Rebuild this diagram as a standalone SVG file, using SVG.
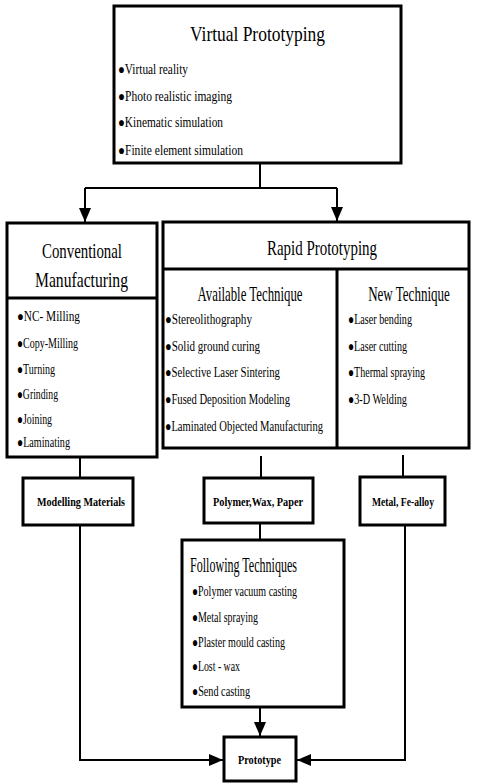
<svg xmlns="http://www.w3.org/2000/svg" width="478" height="783" viewBox="0 0 478 783">
<style>
.box{fill:#fff;stroke:#000;stroke-width:3}
.div{stroke:#000;stroke-width:3;fill:none}
.con{stroke:#000;stroke-width:2;fill:none}
text{font-family:"Liberation Serif","Times New Roman",serif;fill:#000}
.t{font-size:21px}
.b{font-size:14px}
.s{font-size:13px;font-weight:bold}
.m{text-anchor:middle}
</style>
<defs>
<marker id="ah" viewBox="0 0 14 12" refX="14" refY="6" markerWidth="14" markerHeight="12" markerUnits="userSpaceOnUse" orient="auto">
<path d="M0,0 L14,6 L0,12 z" fill="#000"/>
</marker>
</defs>
<rect width="478" height="783" fill="#fff"/>

<g id="connectors">
<path class="con" d="M260,163 V188"/>
<path class="con" d="M85,188 H337"/>
<path class="con" d="M85,188 V222" marker-end="url(#ah)"/>
<path class="con" d="M337,188 V221" marker-end="url(#ah)"/>
<path class="con" d="M80,457 V478"/>
<path class="con" d="M261,456 V478"/>
<path class="con" d="M403,455 V477"/>
<path class="con" d="M260,523 V540"/>
<path class="con" d="M260,707 V736" marker-end="url(#ah)"/>
<path class="con" d="M80,525 V760 H223" marker-end="url(#ah)"/>
<path class="con" d="M405,525 V760 H297" marker-end="url(#ah)"/>
</g>

<g id="virtual">
<rect class="box" x="114" y="6" width="287" height="157"/>
<text class="t" x="190" y="41" textLength="135" lengthAdjust="spacingAndGlyphs">Virtual Prototyping</text>
<text class="b" x="118" y="74" textLength="70" lengthAdjust="spacingAndGlyphs">●Virtual reality</text>
<text class="b" x="118" y="101" textLength="114" lengthAdjust="spacingAndGlyphs">●Photo realistic imaging</text>
<text class="b" x="118" y="127" textLength="105" lengthAdjust="spacingAndGlyphs">●Kinematic simulation</text>
<text class="b" x="118" y="155" textLength="125" lengthAdjust="spacingAndGlyphs">●Finite element simulation</text>
</g>

<g id="conventional">
<rect class="box" x="7" y="223" width="150" height="234"/>
<path class="div" d="M7,298 H157"/>
<text class="t" x="42" y="258" textLength="80" lengthAdjust="spacingAndGlyphs">Conventional</text>
<text class="t" x="35" y="287" textLength="93" lengthAdjust="spacingAndGlyphs">Manufacturing</text>
<text class="b" x="17" y="321" textLength="63" lengthAdjust="spacingAndGlyphs">●NC- Milling</text>
<text class="b" x="17" y="348" textLength="61" lengthAdjust="spacingAndGlyphs">●Copy-Milling</text>
<text class="b" x="17" y="374" textLength="38" lengthAdjust="spacingAndGlyphs">●Turning</text>
<text class="b" x="17" y="399" textLength="41" lengthAdjust="spacingAndGlyphs">●Grinding</text>
<text class="b" x="17" y="424" textLength="35" lengthAdjust="spacingAndGlyphs">●Joining</text>
<text class="b" x="17" y="447" textLength="53" lengthAdjust="spacingAndGlyphs">●Laminating</text>
</g>

<g id="rapid">
<rect class="box" x="163" y="222" width="306" height="226"/>
<path class="div" d="M163,269 H469 M337,269 V448"/>
<text class="t m" x="322" y="255" textLength="110" lengthAdjust="spacingAndGlyphs">Rapid Prototyping</text>
<text class="t m" x="250" y="301" textLength="105" lengthAdjust="spacingAndGlyphs">Available Technique</text>
<text class="t m" transform="translate(409,301) scale(0.62,1)" x="0" y="0">New Technique</text>
<text class="b" x="165" y="324" textLength="87" lengthAdjust="spacingAndGlyphs">●Stereolithography</text>
<text class="b" x="165" y="351" textLength="95" lengthAdjust="spacingAndGlyphs">●Solid ground curing</text>
<text class="b" x="165" y="377" textLength="115" lengthAdjust="spacingAndGlyphs">●Selective Laser Sintering</text>
<text class="b" x="165" y="404" textLength="125" lengthAdjust="spacingAndGlyphs">●Fused Deposition Modeling</text>
<text class="b" x="165" y="431" textLength="158" lengthAdjust="spacingAndGlyphs">●Laminated Objected Manufacturing</text>
<text class="b" x="348" y="324" textLength="64" lengthAdjust="spacingAndGlyphs">●Laser bending</text>
<text class="b" x="348" y="351" textLength="59" lengthAdjust="spacingAndGlyphs">●Laser cutting</text>
<text class="b" x="348" y="377" textLength="77" lengthAdjust="spacingAndGlyphs">●Thermal spraying</text>
<text class="b" x="348" y="404" textLength="59" lengthAdjust="spacingAndGlyphs">●3-D Welding</text>
</g>

<g id="modelling">
<rect class="box" x="23" y="478" width="110" height="47"/>
<text class="s" x="37" y="506" textLength="88" lengthAdjust="spacingAndGlyphs">Modelling Materials</text>
</g>

<g id="polymer">
<rect class="box" x="204" y="478" width="109" height="45"/>
<text class="s" x="213" y="506" textLength="90" lengthAdjust="spacingAndGlyphs">Polymer,Wax, Paper</text>
</g>

<g id="metal">
<rect class="box" x="360" y="477" width="85" height="48"/>
<text class="s" x="372" y="506" textLength="62" lengthAdjust="spacingAndGlyphs">Metal, Fe-alloy</text>
</g>

<g id="following">
<rect class="box" x="182" y="540" width="162" height="167"/>
<text class="t" x="190" y="572" textLength="107" lengthAdjust="spacingAndGlyphs">Following Techniques</text>
<text class="b" x="192" y="596" textLength="105" lengthAdjust="spacingAndGlyphs">●Polymer vacuum casting</text>
<text class="b" x="192" y="622" textLength="66" lengthAdjust="spacingAndGlyphs">●Metal spraying</text>
<text class="b" x="192" y="647" textLength="93" lengthAdjust="spacingAndGlyphs">●Plaster mould casting</text>
<text class="b" x="192" y="671" textLength="48" lengthAdjust="spacingAndGlyphs">●Lost - wax</text>
<text class="b" x="192" y="696" textLength="58" lengthAdjust="spacingAndGlyphs">●Send casting</text>
</g>

<g id="prototype">
<rect class="box" x="224" y="737" width="72" height="44"/>
<text class="s" x="238" y="764" textLength="43" lengthAdjust="spacingAndGlyphs">Prototype</text>
</g>
</svg>
